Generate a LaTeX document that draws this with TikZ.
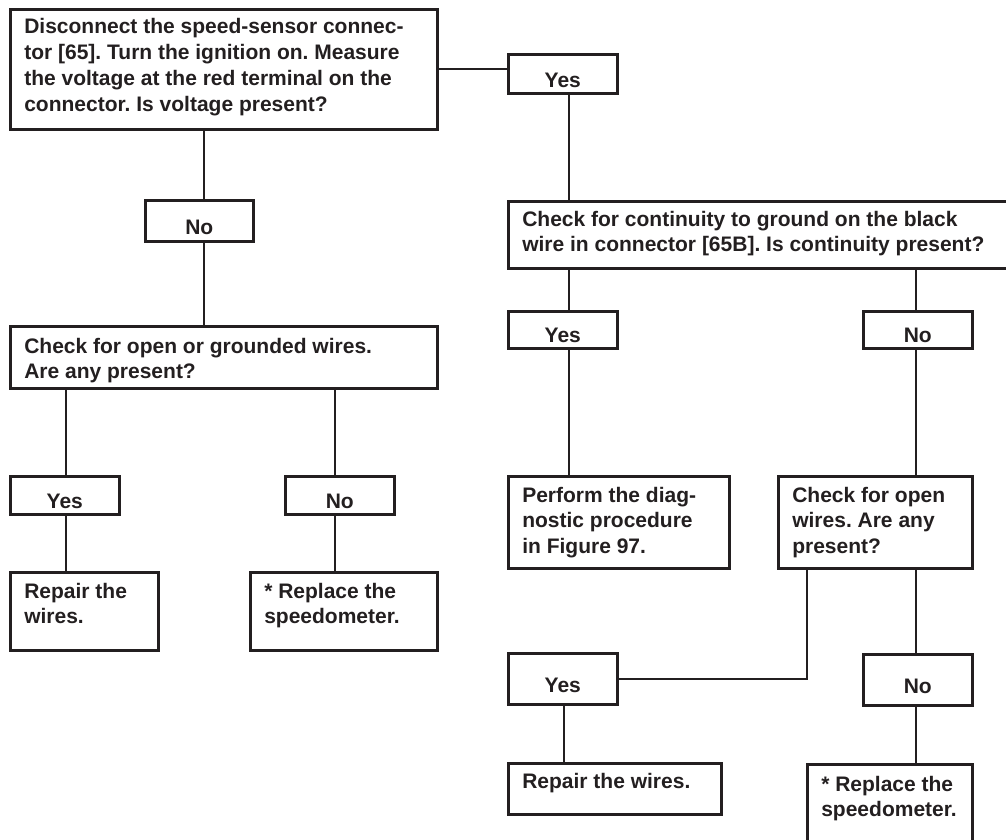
\documentclass[tikz,border=0pt]{standalone}
\usepackage{fontspec}
\setmainfont{Liberation Sans}
\definecolor{ink}{RGB}{35,31,32}
\tikzset{
  bx/.style={draw=ink, line width=2.6pt, inner sep=0pt, anchor=north west, text=ink},
  conn/.style={draw=ink, line width=2.3pt},
}
% name, x1, y1, x2, y2, baseline offset, font setup, text
\newcommand\tbox[8]{%
  \node[bx] (#1) at (#2,-#3) {\parbox[t][\dimexpr#5pt-#3pt\relax][t]{\dimexpr#4pt-#2pt\relax}{%
    #7\frenchspacing\raggedright\leftskip=14pt\rule{0pt}{#6pt}#8}};}
\newcommand\lbox[7]{%
  \node[bx] (#1) at (#2,-#3) {\parbox[t][\dimexpr#5pt-#3pt\relax][t]{\dimexpr#4pt-#2pt\relax}{%
    \fontsize{21}{25}\selectfont\bfseries\centering\rule{0pt}{#6pt}#7}};}
\newcommand\nf{\fontsize{21}{25.5}\selectfont\bfseries}
\begin{document}
\begin{tikzpicture}[x=1pt,y=1pt]
\useasboundingbox (0,0) rectangle (1006,-840);
% text boxes
\tbox{top}{9}{8}{436}{128}{24}{\fontsize{21}{26}\selectfont\bfseries}{Disconnect the speed-sensor connec-\\tor [65]. Turn the ignition on. Measure\\the voltage at the red terminal on the\\connector. Is voltage present?}
\tbox{cont}{507}{200}{1012}{267}{25}{\nf}{Check for continuity to ground on the black\\wire in connector [65B]. Is continuity present?}
\tbox{og}{9}{325}{436}{387}{27}{\nf}{Check for open or grounded wires.\\Are any present?}
\tbox{repL}{9}{571}{157}{649}{26}{\nf}{Repair the\\wires.}
\tbox{rplL}{249}{571}{436}{649}{26}{\nf}{* Replace the\\speedometer.}
\tbox{perf}{507}{475}{728}{567}{26}{\nf}{Perform the diag-\\nostic procedure\\in Figure 97.}
\tbox{cop}{777}{475}{971}{567}{26}{\nf}{Check for open\\wires. Are any\\present?}
\tbox{repR}{507}{762}{720}{813}{25}{\nf}{Repair the wires.}
\tbox{rplR}{806}{763}{971}{848}{27}{\nf}{* Replace the\\speedometer.}
% label boxes
\lbox{yes1}{507}{53}{616}{92}{33}{Yes}
\lbox{no1}{144}{199}{252}{240}{34}{No}
\lbox{yes2}{507}{310}{616}{347}{31}{Yes}
\lbox{no2}{862}{310}{971}{347}{31}{No}
\lbox{yesL}{9}{475}{118}{513}{32}{Yes}
\lbox{noL}{284}{475}{393}{513}{32}{No}
\lbox{yes3}{507}{652}{616}{703}{39}{Yes}
\lbox{no3}{862}{653}{971}{704}{39}{No}
% connectors
\draw[conn] (top.east) -- (top.east -| yes1.west);
\draw[conn] ([xshift=6.5pt]yes1.south) -- ([xshift=6.5pt]yes1.south |- cont.north);
\draw[conn] ([xshift=5pt]no1.north |- top.south) -- ([xshift=5pt]no1.north);
\draw[conn] ([xshift=5pt]no1.south) -- ([xshift=5pt]no1.south |- og.north);
\draw[conn] ([xshift=1.5pt]yesL.north |- og.south) -- ([xshift=1.5pt]yesL.north);
\draw[conn] ([xshift=-4.5pt]noL.north |- og.south) -- ([xshift=-4.5pt]noL.north);
\draw[conn] ([xshift=1.5pt]yesL.south) -- ([xshift=1.5pt]yesL.south |- repL.north);
\draw[conn] ([xshift=-4.5pt]noL.south) -- ([xshift=-4.5pt]noL.south |- rplL.north);
\draw[conn] ([xshift=6.5pt]yes2.north |- cont.south) -- ([xshift=6.5pt]yes2.north);
\draw[conn] ([xshift=-1.5pt]no2.north |- cont.south) -- ([xshift=-1.5pt]no2.north);
\draw[conn] ([xshift=6.5pt]yes2.south) -- ([xshift=6.5pt]yes2.south |- perf.north);
\draw[conn] ([xshift=-1.5pt]no2.south) -- ([xshift=-1.5pt]no2.south |- cop.north);
\draw[conn] ([xshift=30pt]cop.south west) |- (yes3.east);
\draw[conn] ([xshift=-1.5pt]no3.north |- cop.south) -- ([xshift=-1.5pt]no3.north);
\draw[conn] ([xshift=1.5pt]yes3.south) -- ([xshift=1.5pt]yes3.south |- repR.north);
\draw[conn] ([xshift=-1.5pt]no3.south) -- ([xshift=-1.5pt]no3.south |- rplR.north);
\end{tikzpicture}
\end{document}
